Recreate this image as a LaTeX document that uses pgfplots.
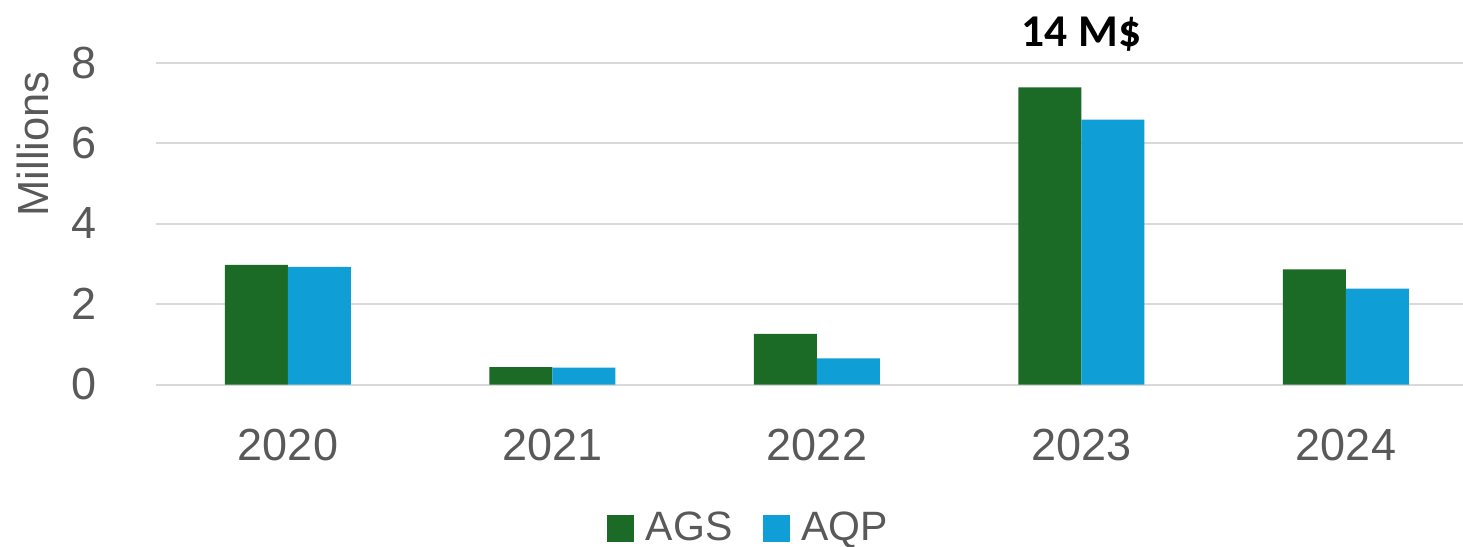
\documentclass[border=0pt]{standalone}
\usepackage{fontspec}
\setmainfont{Liberation Sans}
\newfontfamily\calibri{Carlito}
\usepackage{pgfplots}
\pgfplotsset{compat=1.18}
\definecolor{ags}{HTML}{1B6B26}
\definecolor{aqp}{HTML}{0F9FD6}
\definecolor{txt}{HTML}{595959}
\definecolor{gridc}{HTML}{D9D9D9}
\pgfplotsset{sq/.style={legend image code/.code={\fill[##1] (0bp,-6.75bp) rectangle (13.5bp,6.75bp);}}}
\begin{document}
\begin{tikzpicture}
\begin{axis}[
  at={(0,0)}, anchor=south west,
  scale only axis, width=653.625bp, height=161bp,
  xmin=-0.5, xmax=4.4424, ymin=0, ymax=8,
  ybar=0pt, bar width=31.5bp,
  axis line style={draw=none},
  tick style={draw=none},
  major tick length=0pt,
  ymajorgrids, grid style={gridc, line width=1bp},
  xtick={0,1,2,3,4}, xticklabels={2020,2021,2022,2023,2024},
  ytick={0,2,4,6,8},
  /pgf/number format/assume math mode=true,
  ticklabel style={font=\fontsize{22.5bp}{26bp}\selectfont, text=txt},
  yticklabel style={anchor=east, inner sep=0pt, xshift=-29.5bp},
  xticklabel style={anchor=north, inner sep=0pt, yshift=-21.9bp},
  ylabel={Millions},
  ylabel style={at={(rel axis cs:-0.0941,0.747)}, anchor=center, inner sep=0pt, font=\fontsize{21.75bp}{26bp}\selectfont, text=txt},
  legend columns=2,
  legend style={at={(rel axis cs:0.4527,-0.4457)}, anchor=center, draw=none, fill=none,
    inner sep=0pt, nodes={inner sep=0pt}, font=\fontsize{20.5bp}{24bp}\selectfont, text=txt,
    /tikz/every odd column/.append style={column sep=5.85bp},
    /tikz/every even column/.append style={column sep=15bp}},
  clip=false,
]
\addplot[fill=ags, draw=none, sq] coordinates {(0,2.97) (1,0.43) (2,1.26) (3,7.38) (4,2.86)};
\addplot[fill=aqp, draw=none, sq] coordinates {(0,2.92) (1,0.42) (2,0.65) (3,6.58) (4,2.38)};
\legend{AGS,AQP}
\node[anchor=base, inner sep=0pt, font=\calibri\bfseries\fontsize{22.75bp}{27bp}\selectfont] at (axis cs:3,8.41) {14 M\$};
\end{axis}
\pgfresetboundingbox
\path (-77.875bp,-81.25bp) rectangle (653.625bp,192.25bp);
\end{tikzpicture}
\end{document}
